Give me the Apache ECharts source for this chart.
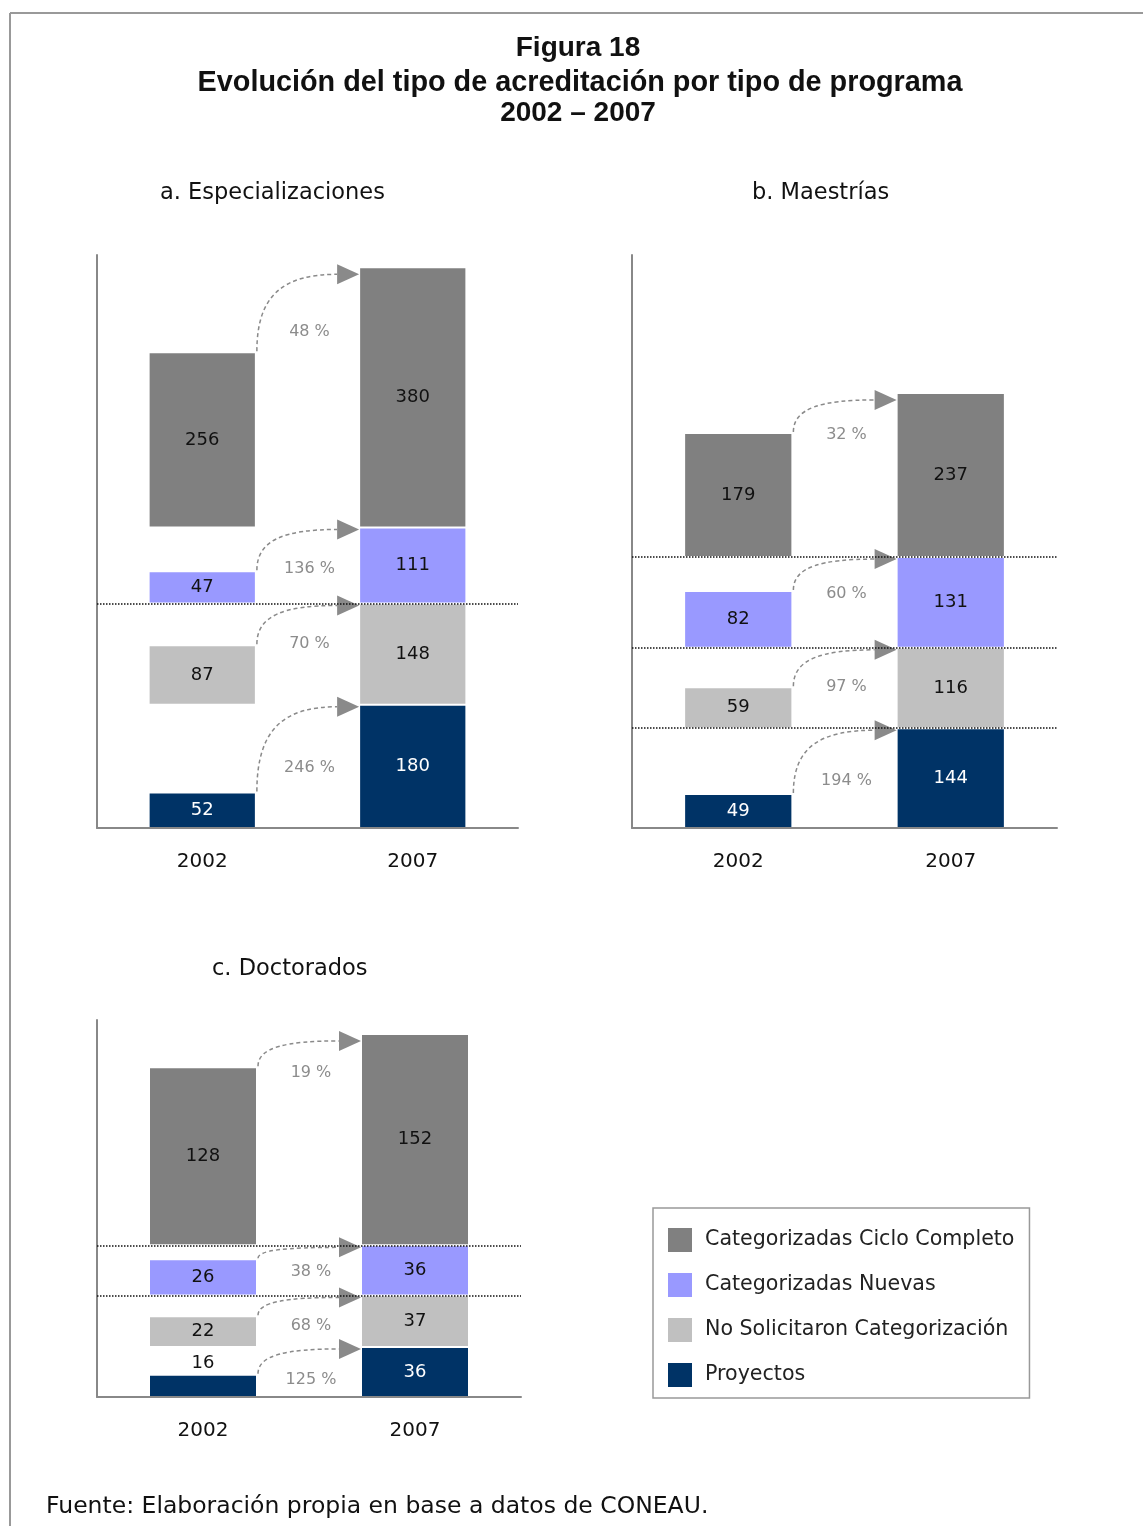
<!DOCTYPE html>
<html><head><meta charset="utf-8">
<script src="https://cdn.jsdelivr.net/npm/echarts@6/dist/echarts.min.js"></script>
<style>html,body{margin:0;padding:0;background:#fff}#c{width:1143px;height:1526px}</style>
</head><body><div id="c"></div>
<script>
// ---------- data ----------
const years = ['2002', '2007'];
const categories = ['Proyectos', 'No Solicitaron Categorización', 'Categorizadas Nuevas', 'Categorizadas Ciclo Completo'];
const legendOrder = ['Categorizadas Ciclo Completo', 'Categorizadas Nuevas', 'No Solicitaron Categorización', 'Proyectos'];

const espec2002 = [52, 87, 47, 256];
const espec2007 = [180, 148, 111, 380];
const especPct = ['246 %', '70 %', '136 %', '48 %'];

const maest2002 = [49, 59, 82, 179];
const maest2007 = [144, 116, 131, 237];
const maestPct = ['194 %', '97 %', '60 %', '32 %'];

const doct2002 = [16, 22, 26, 128];
const doct2007 = [36, 37, 36, 152];
const doctPct = ['125 %', '68 %', '38 %', '19 %'];

// boundaries (number of categories below) where dotted lines are drawn
const especDividers = [2];
const maestDividers = [1, 2, 3];
const doctDividers = [2, 3];

// ---------- styles / layout ----------
const colors = ['#003366', '#C0C0C0', '#9999FF', '#808080'];
const FONT = '"DejaVu Sans", Verdana, sans-serif';
const TFONT = '"Liberation Sans", Arial, sans-serif';
const panels = [
  { v02: espec2002, v07: espec2007, pct: especPct, div: especDividers, grid: { left: 97, top: 255, width: 421, height: 573 }, max: 837 },
  { v02: maest2002, v07: maest2007, pct: maestPct, div: maestDividers, grid: { left: 632, top: 255, width: 425, height: 573 }, max: 827 },
  { v02: doct2002, v07: doct2007, pct: doctPct, div: doctDividers, grid: { left: 97, top: 1020, width: 424, height: 377 }, max: 271 }
];

function cum(arr, n) { let s = 0; for (let i = 0; i < n; i++) s += arr[i]; return s; }

function makeRender(p, k) {
  const last = k === categories.length - 1;
  return function (params, api) {
    const xi = api.value(0), v = api.value(1), base = api.value(2);
    const bw = api.size([1, 0])[0] * 0.5;
    const b = api.coord([xi, base]), t = api.coord([xi, base + v]);
    const x = b[0] - bw / 2;
    const h = b[1] - t[1];
    const children = [{
      type: 'rect',
      shape: { x: x, y: t[1] + 1, width: bw, height: Math.max(h - 2, 1) },
      style: { fill: colors[k] }
    }];
    const inside = h >= 26;
    children.push({
      type: 'text', x: b[0], y: inside ? (t[1] + b[1]) / 2 : t[1] - 11,
      style: { text: String(v), fill: (inside && k === 0) ? '#ffffff' : '#111111', font: '18px ' + FONT, align: 'center', verticalAlign: 'middle' }
    });
    if (xi === 1) {
      const v02 = api.value(3);
      const a = api.coord([0, base + v02]);
      const x0 = a[0] + bw / 2 + 2, y0 = a[1] - 1;
      const xt = x - 1, yt = t[1] + (last ? 7 : 2);
      const xh = xt - 22;
      children.push({
        type: 'bezierCurve',
        shape: { x1: x0, y1: y0, cpx1: x0, cpy1: yt + (y0 - yt) * 0.25, cpx2: x0 + (xh - x0) * 0.35, cpy2: yt, x2: xh, y2: yt },
        style: { stroke: '#8a8a8a', lineWidth: 1.5, lineDash: [4, 3], fill: null }
      });
      children.push({
        type: 'polygon',
        shape: { points: [[xh, yt - 10], [xt, yt], [xh, yt + 10]] },
        style: { fill: '#8a8a8a' }
      });
      children.push({
        type: 'text', x: (a[0] + bw / 2 + x) / 2 + 2, y: (y0 + yt) / 2 + 19,
        style: { text: p.pct[k], fill: '#8c8c8c', font: '16px ' + FONT, align: 'center', verticalAlign: 'middle' }
      });
    }
    return { type: 'group', children: children };
  };
}

const grids = [], xAxes = [], yAxes = [], series = [];
panels.forEach(function (p, pi) {
  grids.push(Object.assign({ containLabel: false, outerBoundsMode: 'none' }, p.grid));
  xAxes.push({
    type: 'category', data: years, gridIndex: pi, offset: 3,
    axisLine: { show: true, lineStyle: { color: '#888', width: 2 } },
    axisTick: { show: false },
    axisLabel: { fontSize: 20, fontFamily: FONT, color: '#111', margin: 21 },
    splitLine: { show: false }
  });
  yAxes.push({
    type: 'value', gridIndex: pi, min: 0, max: p.max,
    axisLine: { show: true, lineStyle: { color: '#888', width: 2 } },
    axisTick: { show: false }, axisLabel: { show: false }, splitLine: { show: false }
  });
  categories.forEach(function (name, k) {
    const base = cum(p.v07, k);
    series.push({
      type: 'custom', name: name, xAxisIndex: pi, yAxisIndex: pi,
      itemStyle: { color: colors[k] },
      renderItem: makeRender(p, k),
      data: [[0, p.v02[k], base, p.v02[k]], [1, p.v07[k], base, p.v02[k]]],
      silent: true, z: 2
    });
  });
  series.push({
    type: 'line', name: 'div' + pi, xAxisIndex: pi, yAxisIndex: pi, data: [], z: 3,
    markLine: {
      silent: true, symbol: ['none', 'none'], label: { show: false },
      lineStyle: { type: 'dotted', color: '#111', width: 1.5 },
      data: p.div.map(function (n) { return { yAxis: cum(p.v07, n) }; })
    }
  });
});

const chart = echarts.init(document.getElementById('c'), null, { renderer: 'canvas' });
chart.setOption({
  backgroundColor: '#ffffff',
  animation: false,
  grid: grids, xAxis: xAxes, yAxis: yAxes, series: series,
  legend: {
    data: legendOrder, orient: 'vertical', left: 653, top: 1208,
    itemWidth: 24, itemHeight: 24, itemGap: 21, icon: 'rect',
    padding: [20, 15, 11, 15], borderColor: '#999', borderWidth: 1.5,
    selectedMode: false,
    textStyle: { fontFamily: FONT, fontSize: 20.6, color: '#222', padding: [0, 0, 0, 8] }
  },
  graphic: [
    { type: 'line', shape: { x1: 10, y1: 13, x2: 1143, y2: 13 }, style: { stroke: '#999', lineWidth: 2 } },
    { type: 'line', shape: { x1: 10, y1: 13, x2: 10, y2: 1526 }, style: { stroke: '#999', lineWidth: 2 } },
    { type: 'text', x: 578, y: 48, style: { text: 'Figura 18', font: 'bold 28px ' + TFONT, fill: '#111', align: 'center', verticalAlign: 'middle' } },
    { type: 'text', x: 580, y: 83, style: { text: 'Evolución del tipo de acreditación por tipo de programa', font: 'bold 28.8px ' + TFONT, fill: '#111', align: 'center', verticalAlign: 'middle' } },
    { type: 'text', x: 578, y: 113, style: { text: '2002 – 2007', font: 'bold 28px ' + TFONT, fill: '#111', align: 'center', verticalAlign: 'middle' } },
    { type: 'text', x: 160, y: 193, style: { text: 'a. Especializaciones', font: '22.5px ' + FONT, fill: '#111', align: 'left', verticalAlign: 'middle' } },
    { type: 'text', x: 752, y: 193, style: { text: 'b. Maestrías', font: '22.5px ' + FONT, fill: '#111', align: 'left', verticalAlign: 'middle' } },
    { type: 'text', x: 212, y: 969, style: { text: 'c. Doctorados', font: '22.5px ' + FONT, fill: '#111', align: 'left', verticalAlign: 'middle' } },
    { type: 'text', x: 46, y: 1507, style: { text: 'Fuente: Elaboración propia en base a datos de CONEAU.', font: '23.5px ' + FONT, fill: '#111', align: 'left', verticalAlign: 'middle' } }
  ]
});
</script>
</body></html>
